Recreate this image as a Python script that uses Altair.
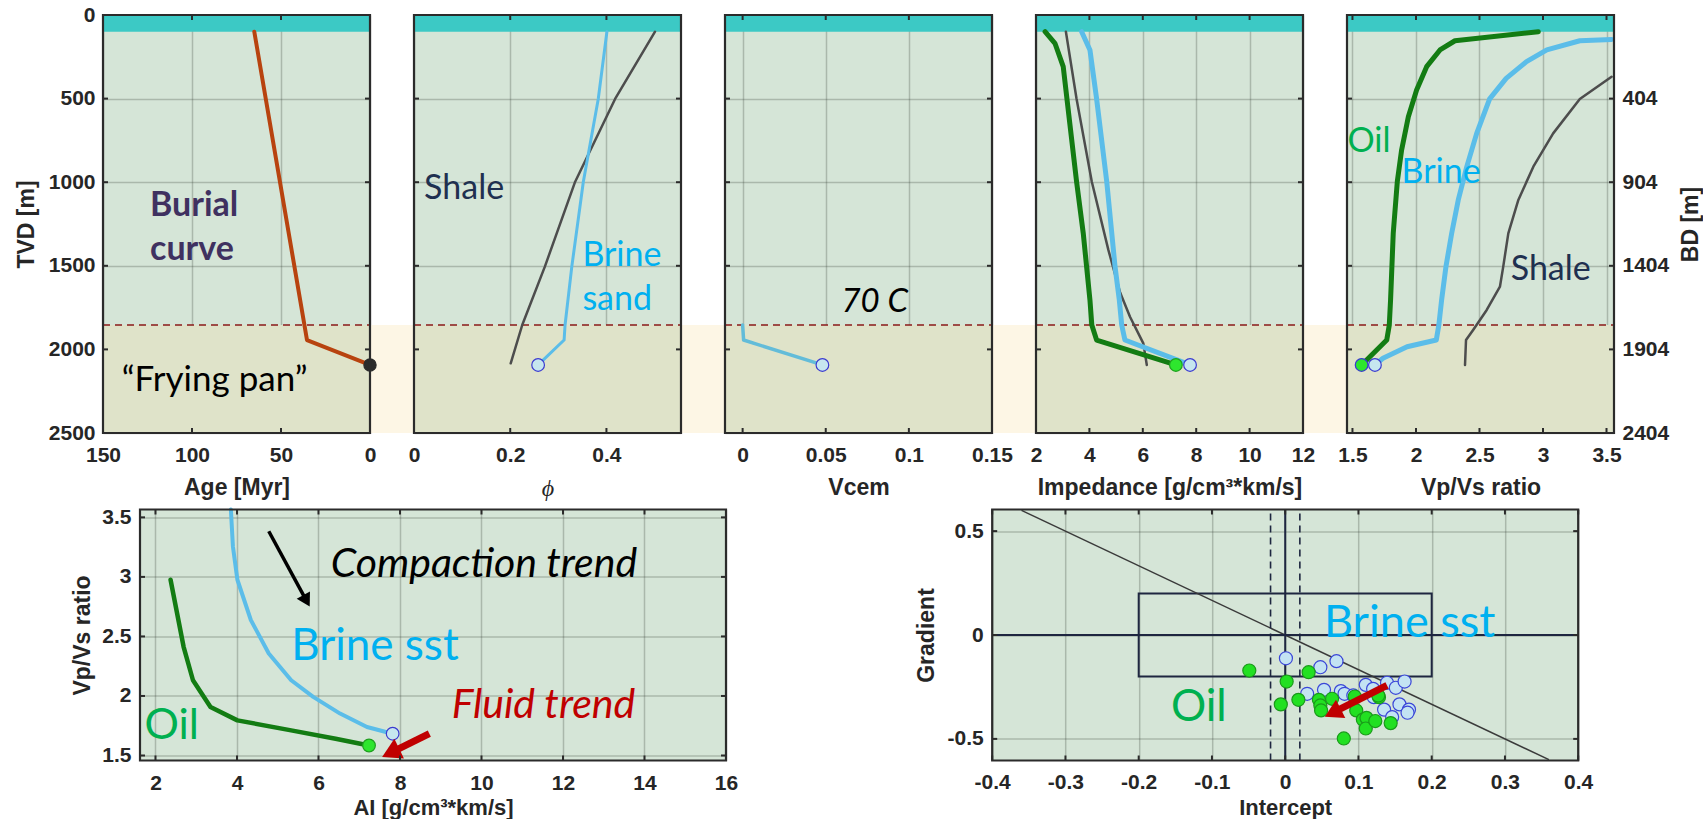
import altair as alt
import pandas as pd

# ---------------- data ----------------
TVD_MAX = 2500
SEA_BOTTOM = 100          # sea-water band (TVD 0-100 m)
PAN_TOP = 1854            # 70 C line, top of the "frying pan"
BD_SHIFT = 96             # BD = TVD - 96
TVD_TICKS = [0, 500, 1000, 1500, 2000, 2500]
BD_TICKS = [500, 1000, 1500, 2000, 2500]

# panel 1: burial curve
age_ticks = [150, 100, 50, 0]
burial_age = [65, 35.4, 0]
burial_tvd = [100, 1944, 2093]
burial_end_age = [0]
burial_end_tvd = [2093]

# panel 2: porosity
phi_ticks = [0, 0.2, 0.4]
phi_shale = [0.501, 0.418, 0.335, 0.272, 0.225, 0.201]
phi_shale_tvd = [100, 502, 997, 1505, 1854, 2083]
phi_brine = [0.401, 0.383, 0.352, 0.328, 0.314, 0.312, 0.258]
phi_brine_tvd = [100, 502, 997, 1505, 1854, 1944, 2093]

# panel 3: cement volume
vcem_ticks = [0, 0.05, 0.1, 0.15]
vcem_brine = [0.0, 0.0006, 0.048]
vcem_brine_tvd = [1854, 1944, 2093]

# panel 4: impedance
ai_ticks = [2, 4, 6, 8, 10, 12]
ai_oil = [2.34, 2.71, 3.02, 3.27, 3.52, 3.77, 4.02, 4.09, 4.27, 7.24]
ai_oil_tvd = [100, 169, 309, 654, 997, 1306, 1704, 1854, 1944, 2093]
ai_shale = [3.12, 3.52, 4.09, 4.71, 5.15, 5.52, 6.02, 6.15]
ai_shale_tvd = [100, 502, 997, 1405, 1660, 1805, 1964, 2093]
ai_brine = [3.71, 4.02, 4.27, 4.65, 4.96, 5.12, 5.21, 5.33, 7.77]
ai_brine_tvd = [100, 209, 502, 997, 1505, 1704, 1854, 1944, 2093]

# panel 5: Vp/Vs
vpvs_ticks = [1.5, 2, 2.5, 3, 3.5]
vpvs_oil = [2.963, 2.307, 2.189, 2.084, 2.005, 1.94, 1.887, 1.853, 1.821, 1.80, 1.79, 1.77, 1.572]
vpvs_oil_tvd = [100, 154, 209, 309, 449, 608, 807, 997, 1306, 1704, 1854, 1944, 2093]
vpvs_brine = [3.54, 3.29, 3.03, 2.87, 2.71, 2.58, 2.478, 2.40, 2.333, 2.281, 2.236, 2.202, 2.18, 2.16, 1.93, 1.74, 1.677]
vpvs_brine_tvd = [146, 154, 209, 279, 379, 502, 708, 907, 1106, 1306, 1505, 1704, 1854, 1944, 1984, 2053, 2093]
vpvs_shale = [3.54, 3.29, 3.08, 2.924, 2.806, 2.727, 2.687, 2.661, 2.557, 2.45, 2.394, 2.386]
vpvs_shale_tvd = [369, 502, 708, 907, 1106, 1306, 1505, 1625, 1764, 1884, 1944, 2093]

# bottom-left: AI vs Vp/Vs
bl_x_ticks = [2, 4, 6, 8, 10, 12, 14, 16]
bl_y_ticks = [1.5, 2, 2.5, 3, 3.5]
bl_brine_ai = [3.85, 3.90, 4.01, 4.34, 4.78, 5.33, 5.87, 6.53, 7.19, 7.82]
bl_brine_vpvs = [3.566, 3.256, 2.976, 2.638, 2.357, 2.132, 1.992, 1.852, 1.739, 1.683]
bl_oil_ai = [2.37, 2.53, 2.69, 2.92, 3.35, 4.01, 5.33, 6.42, 7.24]
bl_oil_vpvs = [2.976, 2.695, 2.413, 2.132, 1.907, 1.795, 1.711, 1.641, 1.584]
bl_black_arrow = {"x": [4.78, 5.68], "y": [3.383, 2.815]}
bl_red_arrow = {"x": [8.72, 7.84], "y": [1.683, 1.535]}

# bottom-right: intercept / gradient
br_x_ticks = [-0.4, -0.3, -0.2, -0.1, 0, 0.1, 0.2, 0.3, 0.4]
br_y_ticks = [-0.5, 0, 0.5]
br_blue_I = [0.001, 0.048, 0.070, 0.030, 0.053, 0.076, 0.081, 0.093, 0.110, 0.120,
             0.121, 0.139, 0.151, 0.163, 0.135, 0.146, 0.156, 0.169, 0.167]
br_blue_G = [-0.112, -0.155, -0.126, -0.283, -0.264, -0.270, -0.283, -0.291, -0.240, -0.259,
             -0.299, -0.230, -0.254, -0.224, -0.359, -0.395, -0.334, -0.359, -0.374]
br_green_I = [-0.049, 0.002, -0.006, 0.018, 0.032, 0.046, 0.048, 0.049, 0.064, 0.095,
              0.097, 0.106, 0.111, 0.110, 0.123, 0.128, 0.127, 0.144, 0.080]
br_green_G = [-0.171, -0.224, -0.334, -0.312, -0.179, -0.312, -0.339, -0.363, -0.307, -0.296,
              -0.363, -0.407, -0.399, -0.450, -0.414, -0.299, -0.291, -0.424, -0.498]
br_diag = {"x": [-0.36], "y": [0.6], "x2": [0.36], "y2": [-0.6]}
br_box = {"x": [-0.2], "y": [-0.2], "x2": [0.2], "y2": [0.2]}
br_dash_I = [-0.02, 0.02]
br_red_arrow = {"x": [0.139, 0.0685], "y": [-0.243, -0.368]}

# ---------------- styling / layout ----------------
W, H = 267, 418
GAP = 44
BW, BH = 586, 251
P1_LEFT, P1_TOP = 103, 15
BL_LEFT, BL_TOP = 139.3, 509.5
BR_LEFT = 991.5
AXF = "Liberation Sans"
TXF = "Lato"
AXC = "#262626"
FRAME = "#2b2b2b"
PANEL_BG = "#d5e5d7"
PAN_IN = "#dfe3c9"
PAN_OUT = "#fdf6e5"
SEA = "#3cc9c5"
OIL = "#137c13"
BRINE = "#5bbde9"
SHALE = "#4d4d4d"
TXT_BLUE = "#00b0f0"
TXT_GREEN = "#00b050"
TXT_NAVY = "#1f3050"
NUMFMT = "(datum.value < 0 ? '-' : '') + format(abs(datum.value), '~g')"
TICK = 5

one = pd.DataFrame({"a": [0]})


def Y(axis):
    return alt.Y("tvd:Q", scale=alt.Scale(domain=[0, TVD_MAX], reverse=True, nice=False, zero=False), axis=axis)


def Xtop(dom, values, title, reverse=False, **kw):
    return alt.X("v:Q", scale=alt.Scale(domain=dom, nice=False, zero=False, reverse=reverse),
                 axis=alt.Axis(values=values, title=title, labelExpr=NUMFMT,
                               labelPadding=11, titlePadding=11, **kw))


def background(yax, gap):
    pan = pd.DataFrame({"tvd": [PAN_TOP], "tvd2": [TVD_MAX]})
    sea = pd.DataFrame({"tvd": [0], "tvd2": [SEA_BOTTOM]})
    iso = pd.DataFrame({"tvd": [PAN_TOP]})
    out = [alt.Chart(pan).mark_rect(color=PAN_IN).encode(
        x=alt.value(0), x2=alt.value(W), y=Y(yax), y2=alt.Y2("tvd2"))]
    if gap:
        out.append(alt.Chart(pan).mark_rect(color=PAN_OUT).encode(
            x=alt.value(W), x2=alt.value(W + GAP), y=Y(yax), y2=alt.Y2("tvd2")))
    out.append(alt.Chart(sea).mark_rect(color=SEA).encode(
        x=alt.value(0), x2=alt.value(W), y=Y(yax), y2=alt.Y2("tvd2")))
    out.append(alt.Chart(iso).mark_rule(color="#8b1a1a", strokeDash=[7, 5], strokeWidth=1.5).encode(
        x=alt.value(0), x2=alt.value(W), y=Y(yax)))
    return out


def frame(w, h):
    return alt.Chart(one).mark_rect(fillOpacity=0, stroke=FRAME, strokeWidth=2.2).encode(
        x=alt.value(0), x2=alt.value(w), y=alt.value(0), y2=alt.value(h))


def inner_ticks(xvals, yvals, xenc, yenc, w, h, xf, yf):
    """MATLAB-style inward tick marks on all four sides of the box."""
    xd = pd.DataFrame({xf: xvals})
    yd = pd.DataFrame({yf: yvals})
    st = dict(color=FRAME, strokeWidth=2)
    return [
        alt.Chart(xd).mark_rule(**st).encode(x=xenc, y=alt.value(0), y2=alt.value(TICK)),
        alt.Chart(xd).mark_rule(**st).encode(x=xenc, y=alt.value(h - TICK), y2=alt.value(h)),
        alt.Chart(yd).mark_rule(**st).encode(y=yenc, x=alt.value(0), x2=alt.value(TICK)),
        alt.Chart(yd).mark_rule(**st).encode(y=yenc, x=alt.value(w - TICK), x2=alt.value(w)),
    ]


def line(xs, ys, color, width, xenc, yenc, xf="v", yf="tvd"):
    df = pd.DataFrame({xf: xs, yf: ys, "i": list(range(len(xs)))})
    return alt.Chart(df).mark_line(color=color, strokeWidth=width, strokeCap="round",
                                   strokeJoin="round").encode(x=xenc, y=yenc, order="i:Q")


def dots(xs, ys, fill, stroke, size, xenc, yenc, xf="v", yf="tvd"):
    df = pd.DataFrame({xf: xs, yf: ys})
    return alt.Chart(df).mark_point(shape="circle", filled=True, fill=fill, stroke=stroke,
                                    strokeWidth=1.2, size=size, opacity=1, fillOpacity=1,
                                    strokeOpacity=1).encode(x=xenc, y=yenc)


def label(x, y, text, xenc, yenc, size, color, style="normal", weight="normal", xf="v", yf="tvd"):
    df = pd.DataFrame({xf: [x], yf: [y]})
    return alt.Chart(df).mark_text(text=text, align="left", baseline="alphabetic", font=TXF,
                                   fontSize=size, color=color, fontStyle=style,
                                   fontWeight=weight).encode(x=xenc, y=yenc)


def spacer(x, y, baseline):
    return alt.Chart(one).mark_text(text=".", opacity=0, align="left", baseline=baseline,
                                    fontSize=8).encode(x=alt.value(x), y=alt.value(y))


def top_panel(xenc, yax, xticks, content, gap=True, extra=()):
    yenc = Y(yax)
    return alt.layer(
        *background(yax, gap),
        *content,
        *inner_ticks(xticks, TVD_TICKS, xenc, yenc, W, H, "v", "tvd"),
        *extra,
        frame(W, H),
    ).properties(width=W, height=H)


hidden_y = alt.Axis(labels=False, title=None, values=TVD_TICKS)

# ---- panel 1 ----
ax1 = alt.Axis(values=TVD_TICKS, title="TVD [m]", labelExpr=NUMFMT, labelPadding=8, titlePadding=10)
x1 = Xtop([0, 150], age_ticks, "Age [Myr]", reverse=True)
y1 = Y(ax1)
p1 = top_panel(x1, ax1, age_ticks, [
    line(burial_age, burial_tvd, "#b8430f", 4, x1, y1),
    dots(burial_end_age, burial_end_tvd, "#2b2b2b", "#2b2b2b", 150, x1, y1),
    label(123.6, 1202, "Burial", x1, y1, 34, "#3f3160", weight="bold"),
    label(123.6, 1465, "curve", x1, y1, 34, "#3f3160", weight="bold"),
    label(139.5, 2247, "\u201cFrying pan\u201d", x1, y1, 35, "#000000"),
], extra=[spacer(-P1_LEFT, -P1_TOP, "top")])

# ---- panel 2 ----
x2 = Xtop([0, 0.555], phi_ticks, "\u03d5", titleFont="Liberation Serif",
          titleFontWeight="normal", titleFontStyle="italic", titleFontSize=24)
y2 = Y(hidden_y)
p2 = top_panel(x2, hidden_y, phi_ticks, [
    line(phi_shale, phi_shale_tvd, SHALE, 2.5, x2, y2),
    line(phi_brine, phi_brine_tvd, BRINE, 3, x2, y2),
    dots([phi_brine[-1]], [phi_brine_tvd[-1]], "#c6e6ef", "#3a3ad0", 160, x2, y2),
    label(0.021, 1100, "Shale", x2, y2, 34, TXT_NAVY),
    label(0.35, 1499, "Brine", x2, y2, 34, TXT_BLUE),
    label(0.35, 1764, "sand", x2, y2, 34, TXT_BLUE),
])

# ---- panel 3 ----
x3 = Xtop([-0.0106, 0.15], vcem_ticks, "Vcem")
y3 = Y(hidden_y)
p3 = top_panel(x3, hidden_y, vcem_ticks, [
    line(vcem_brine, vcem_brine_tvd, "#63bcd9", 3.5, x3, y3),
    dots([vcem_brine[-1]], [vcem_brine_tvd[-1]], "#c6e6ef", "#3a3ad0", 160, x3, y3),
    label(0.0594, 1775, "70 C", x3, y3, 33, "#000000", style="italic"),
])

# ---- panel 4 ----
x4 = Xtop([2, 12], ai_ticks, "Impedance [g/cm\u00b3*km/s]")
y4 = Y(hidden_y)
p4 = top_panel(x4, hidden_y, ai_ticks, [
    line(ai_shale, ai_shale_tvd, SHALE, 2.5, x4, y4),
    line(ai_brine, ai_brine_tvd, BRINE, 5, x4, y4),
    line(ai_oil, ai_oil_tvd, OIL, 5, x4, y4),
    dots([ai_brine[-1]], [ai_brine_tvd[-1]], "#c6e6ef", "#3a3ad0", 160, x4, y4),
    dots([ai_oil[-1]], [ai_oil_tvd[-1]], "#2ee62e", "#1f9f1f", 160, x4, y4),
])

# ---- panel 5 ----
ax5 = alt.Axis(orient="right", values=BD_TICKS, title="BD [m]", titleAngle=270,
               labelExpr=f"'' + (datum.value - {BD_SHIFT})", labelPadding=8, titlePadding=34)
x5 = Xtop([1.457, 3.559], vpvs_ticks, "Vp/Vs ratio")
y5 = Y(ax5)
p5 = top_panel(x5, ax5, vpvs_ticks, [
    line(vpvs_shale, vpvs_shale_tvd, SHALE, 2.5, x5, y5),
    line(vpvs_brine, vpvs_brine_tvd, BRINE, 5, x5, y5),
    line(vpvs_oil, vpvs_oil_tvd, OIL, 5, x5, y5),
    dots([vpvs_brine[-1]], [vpvs_brine_tvd[-1]], "#c6e6ef", "#3a3ad0", 160, x5, y5),
    dots([vpvs_oil[-1]], [vpvs_oil_tvd[-1]], "#2ee62e", "#3a3ad0", 160, x5, y5),
    label(1.46, 817, "Oil", x5, y5, 34, TXT_GREEN),
    label(1.887, 1007, "Brine", x5, y5, 34, TXT_BLUE),
    label(2.746, 1585, "Shale", x5, y5, 34, TXT_NAVY),
], gap=False)

top_row = alt.hconcat(p1, p2, p3, p4, p5, spacing=GAP, bounds="flush")

# ---- bottom-left ----
xbl = alt.X("x:Q", scale=alt.Scale(domain=[1.62, 16], nice=False, zero=False),
            axis=alt.Axis(values=bl_x_ticks, title="AI [g/cm\u00b3*km/s]",
                          labelExpr=NUMFMT, labelPadding=12, titlePadding=4, titleFontSize=22))
ybl = alt.Y("y:Q", scale=alt.Scale(domain=[1.458, 3.566], nice=False, zero=False),
            axis=alt.Axis(values=bl_y_ticks, title="Vp/Vs ratio",
                          labelExpr=NUMFMT, labelPadding=9, titlePadding=7))


def arrow(d, color, width, head, angle, xenc, yenc):
    shaft = pd.DataFrame({"x": [d["x"][0]], "y": [d["y"][0]], "x2": [d["x"][1]], "y2": [d["y"][1]]})
    tip = pd.DataFrame({"x": [d["x"][1]], "y": [d["y"][1]]})
    return [
        alt.Chart(shaft).mark_rule(color=color, strokeWidth=width).encode(
            x=xenc, y=yenc, x2=alt.X2("x2"), y2=alt.Y2("y2")),
        alt.Chart(tip).mark_point(shape="triangle", filled=True, color=color, opacity=1,
                                  size=head, angle=angle).encode(x=xenc, y=yenc),
    ]


bl = alt.layer(
    line(bl_brine_ai, bl_brine_vpvs, BRINE, 4, xbl, ybl, "x", "y"),
    line(bl_oil_ai, bl_oil_vpvs, OIL, 4.5, xbl, ybl, "x", "y"),
    dots([bl_brine_ai[-1]], [bl_brine_vpvs[-1]], "#c6e6ef", "#3a3ad0", 160, xbl, ybl, "x", "y"),
    dots([bl_oil_ai[-1]], [bl_oil_vpvs[-1]], "#2ee62e", "#1f9f1f", 160, xbl, ybl, "x", "y"),
    *arrow(bl_black_arrow, "#000000", 3.5, 230, 151, xbl, ybl),
    *arrow(bl_red_arrow, "#c00000", 7, 480, 244, xbl, ybl),
    label(6.30, 3.00, "Compaction trend", xbl, ybl, 41, "#000000", style="italic", xf="x", yf="y"),
    label(5.33, 2.30, "Brine sst", xbl, ybl, 44, TXT_BLUE, xf="x", yf="y"),
    label(1.73, 1.64, "Oil", xbl, ybl, 43, TXT_GREEN, xf="x", yf="y"),
    label(9.27, 1.818, "Fluid trend", xbl, ybl, 41, "#c00000", style="italic", xf="x", yf="y"),
    *inner_ticks(bl_x_ticks, bl_y_ticks, xbl, ybl, BW, BH, "x", "y"),
    spacer(-BL_LEFT, -2.5, "top"),
    frame(BW, BH),
).properties(width=BW, height=BH)

# ---- bottom-right ----
xbr = alt.X("x:Q", scale=alt.Scale(domain=[-0.4, 0.4], nice=False, zero=False),
            axis=alt.Axis(values=br_x_ticks, title="Intercept",
                          labelExpr=NUMFMT, labelPadding=11, titlePadding=5, titleFontSize=22))
ybr = alt.Y("y:Q", scale=alt.Scale(domain=[-0.604, 0.604], nice=False, zero=False),
            axis=alt.Axis(values=br_y_ticks, title="Gradient",
                          labelExpr=NUMFMT, labelPadding=9, titlePadding=9))
NAVY = "#1e2640"
hline = pd.DataFrame({"x": [-0.4], "x2": [0.4], "y": [0.0]})
vline = pd.DataFrame({"x": [0.0], "y": [-0.604], "y2": [0.604]})
dash = pd.DataFrame({"x": br_dash_I, "y": [-0.604] * 2, "y2": [0.604] * 2})

br = alt.layer(
    alt.Chart(pd.DataFrame(br_box)).mark_rect(fillOpacity=0, stroke=NAVY, strokeWidth=2).encode(
        x=xbr, y=ybr, x2=alt.X2("x2"), y2=alt.Y2("y2")),
    alt.Chart(pd.DataFrame(br_diag)).mark_rule(color="#3a3a3a", strokeWidth=1.5).encode(
        x=xbr, y=ybr, x2=alt.X2("x2"), y2=alt.Y2("y2")),
    alt.Chart(hline).mark_rule(color=NAVY, strokeWidth=2).encode(x=xbr, x2=alt.X2("x2"), y=ybr),
    alt.Chart(vline).mark_rule(color=NAVY, strokeWidth=2).encode(x=xbr, y=ybr, y2=alt.Y2("y2")),
    alt.Chart(dash).mark_rule(color=NAVY, strokeWidth=1.6, strokeDash=[7, 5]).encode(
        x=xbr, y=ybr, y2=alt.Y2("y2")),
    dots(br_blue_I, br_blue_G, "#c3e3f3", "#3a46d8", 170, xbr, ybr, "x", "y"),
    dots(br_green_I, br_green_G, "#22e022", "#1a9a1a", 170, xbr, ybr, "x", "y"),
    *arrow(br_red_arrow, "#c00000", 7, 420, 243, xbr, ybr),
    label(0.053, -0.011, "Brine sst", xbr, ybr, 45, TXT_BLUE, xf="x", yf="y"),
    label(-0.156, -0.414, "Oil", xbr, ybr, 44, TXT_GREEN, xf="x", yf="y"),
    *inner_ticks(br_x_ticks, br_y_ticks, xbr, ybr, BW, BH, "x", "y"),
    frame(BW, BH),
).properties(width=BW, height=BH)

# invisible first cell of the bottom row: shifts the bottom panels right of the top panels
shift = alt.Chart(one).mark_text(text=".", opacity=0).encode(
    x=alt.value(0), y=alt.value(0)
).properties(width=BL_LEFT - P1_LEFT, height=1,
             view=alt.ViewBackground(fillOpacity=0, strokeOpacity=0))

bottom_pair = alt.hconcat(bl, br, spacing=BR_LEFT - BL_LEFT - BW, bounds="flush")
bottom_row = alt.hconcat(shift, bottom_pair, spacing=0, bounds="flush")

chart = alt.vconcat(top_row, bottom_row, spacing=BL_TOP - P1_TOP, bounds="flush").properties(
    padding=0
).configure_view(
    fill=PANEL_BG, stroke=None
).configure_axis(
    labelFont=AXF, labelFontWeight="bold", labelFontSize=21, labelColor=AXC,
    titleFont=AXF, titleFontWeight="bold", titleFontSize=23, titleColor=AXC,
    grid=True, gridColor="#2f3b2f", gridOpacity=0.26, gridWidth=1.5,
    domain=False, ticks=False, tickSize=0, labelFlush=False, labelOverlap=False, zindex=1,
)

chart.save("out.html", embed_options={"renderer": "svg", "actions": False})
